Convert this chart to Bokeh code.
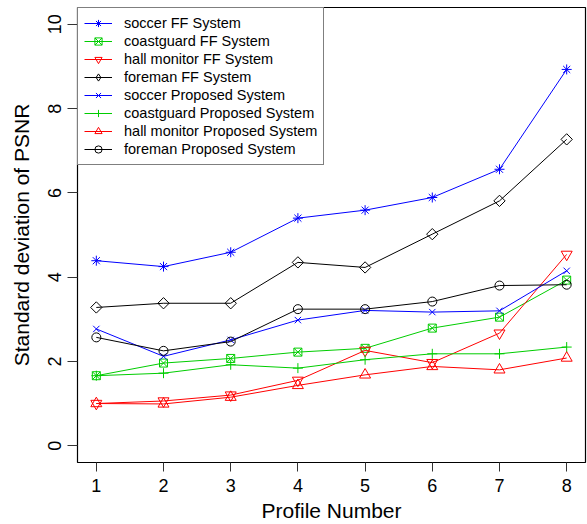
import math

from bokeh.embed import file_html
from bokeh.models import ColumnDataSource, FixedTicker, Legend, LegendItem, Range1d
from bokeh.plotting import figure
from bokeh.resources import INLINE

# Profile numbers on the x axis
profiles = [1, 2, 3, 4, 5, 6, 7, 8]

# Standard deviation of PSNR per profile
soccer_ff = [4.39, 4.25, 4.59, 5.40, 5.59, 5.89, 6.56, 8.93]
coastguard_ff = [1.66, 1.96, 2.07, 2.22, 2.31, 2.79, 3.05, 3.93]
hall_ff = [1.00, 1.06, 1.20, 1.55, 2.26, 1.97, 2.67, 4.54]
foreman_ff = [3.28, 3.38, 3.38, 4.35, 4.23, 5.02, 5.81, 7.27]
soccer_prop = [2.77, 2.12, 2.51, 2.98, 3.21, 3.17, 3.20, 4.15]
coastguard_prop = [1.66, 1.72, 1.92, 1.84, 2.04, 2.18, 2.18, 2.34]
hall_prop = [1.00, 0.99, 1.15, 1.43, 1.68, 1.88, 1.80, 2.08]
foreman_prop = [2.57, 2.25, 2.47, 3.24, 3.24, 3.42, 3.80, 3.82]

y_ticks = [0, 2, 4, 6, 8, 10]

BLUE = "#0000FF"
GREEN = "#00CD00"
RED = "#FF0000"
BLACK = "#000000"
FONT = "Liberation Sans"

# label, values, colour, plot marker, size, angle, legend marker
series = [
    ("soccer FF System", soccer_ff, BLUE, "asterisk", 10, 0.0, None),
    ("coastguard FF System", coastguard_ff, GREEN, "square_x", 8, 0.0, None),
    ("hall monitor FF System", hall_ff, RED, "inverted_triangle", 11, 0.0, None),
    ("foreman FF System", foreman_ff, BLACK, "square", 8, math.pi / 4, "diamond"),
    ("soccer Proposed System", soccer_prop, BLUE, "x", 9, 0.0, None),
    ("coastguard Proposed System", coastguard_prop, GREEN, "cross", 10, 0.0, None),
    ("hall monitor Proposed System", hall_prop, RED, "triangle", 11, 0.0, None),
    ("foreman Proposed System", foreman_prop, BLACK, "circle", 9, 0.0, None),
]

p = figure(
    width=587, height=524,
    x_range=Range1d(0.72, 8.28), y_range=Range1d(-0.4, 10.4),
    output_backend="svg", toolbar_location=None,
    min_border_left=77, min_border_right=2,
    min_border_top=7, min_border_bottom=61,
    background_fill_color="white", border_fill_color="white",
)
p.grid.visible = False
p.outline_line_color = BLACK
p.outline_line_width = 1.2

items = []
for label, vals, color, marker, size, angle, key_marker in series:
    src = ColumnDataSource(dict(x=profiles, y=vals))
    ln = p.line("x", "y", source=src, line_color=color, line_width=1)
    sc = p.scatter("x", "y", source=src, marker=marker, size=size,
                   angle=angle, line_color=color, fill_color=None,
                   line_width=1)
    key = sc
    if key_marker is not None:
        # legend keys ignore marker angles: a zero-size glyph supplies the key
        key = p.scatter("x", "y", source=src, marker=key_marker, size=0,
                        line_color=color, fill_color=None, line_width=1)
    items.append(LegendItem(label=label, renderers=[ln, key]))

legend = Legend(
    items=items, location="top_left", margin=0, padding=6, spacing=0,
    label_height=18, glyph_height=18, glyph_width=28, label_standoff=12,
    border_line_color=BLACK, border_line_width=1,
    label_text_font=FONT, label_text_font_size="14.5px",
    label_text_color=BLACK, background_fill_color="white",
    background_fill_alpha=1.0,
)
p.add_layout(legend)

for ax in (p.xaxis[0], p.yaxis[0]):
    ax.axis_line_color = None
    ax.major_tick_line_color = "#333333"
    ax.major_tick_in = 0
    ax.minor_tick_line_color = None
    ax.major_label_text_font = FONT
    ax.major_label_text_font_size = "18px"
    ax.major_label_text_color = BLACK
    ax.axis_label_text_font = FONT
    ax.axis_label_text_font_size = "21px"
    ax.axis_label_text_font_style = "normal"
    ax.axis_label_text_color = BLACK

p.xaxis.ticker = FixedTicker(ticks=profiles)
p.xaxis.major_tick_out = 9
p.xaxis.major_label_standoff = 7
p.xaxis.axis_label = "Profile Number"
p.xaxis.axis_label_standoff = 4

p.yaxis.ticker = FixedTicker(ticks=y_ticks)
p.yaxis.major_tick_out = 10
p.yaxis.major_label_standoff = 6
p.yaxis.major_label_orientation = "parallel"
p.yaxis.axis_label = "Standard deviation of PSNR"
p.yaxis.axis_label_standoff = 13

open("out.html", "w").write(file_html(p, INLINE))
